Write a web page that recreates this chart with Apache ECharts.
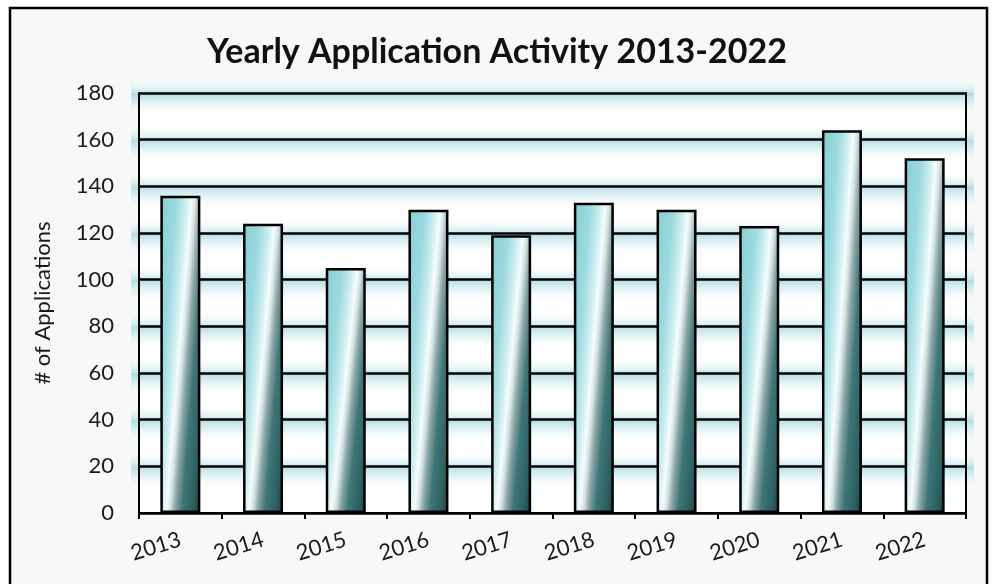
<!DOCTYPE html>
<html>
<head>
<meta charset="utf-8">
<script src="https://cdn.jsdelivr.net/npm/echarts@6/dist/echarts.min.js"></script>
<style>
html,body{margin:0;padding:0;background:#ffffff;}
#c{width:994px;height:584px;}
</style>
</head>
<body>
<div id="c"></div>
<script>
const titleText = 'Yearly Application Activity 2013-2022';
const yAxisName = '# of Applications';
const years = ['2013','2014','2015','2016','2017','2018','2019','2020','2021','2022'];
const applications = [136,124,105,130,119,133,130,123,164,152];
const yMin = 0, yMax = 180, yStep = 20;

const FONT = 'Lato, "Open Sans", sans-serif';
const BAR_W = 40;
const stops = [
  {offset:0, color:'#84ced4'},
  {offset:0.25, color:'#9cdadf'},
  {offset:0.40, color:'#cdeef0'},
  {offset:0.48, color:'#f6fcfc'},
  {offset:0.54, color:'#d3e2e2'},
  {offset:0.61, color:'#8ea7a8'},
  {offset:0.72, color:'#3f7678'},
  {offset:0.88, color:'#2b6163'},
  {offset:1, color:'#173f41'}
];
function makeGrad(w, h){
  const den = h*h + 0.4225*w*w;
  const x2 = 1.65*h*h/den;
  const y2 = 1.0725*w*w/den;
  return new echarts.graphic.LinearGradient(0,0,x2,y2,stops);
}

// glow bands around each gridline
const glowBelow = new echarts.graphic.LinearGradient(0,0,0,1,[
  {offset:0, color:'rgba(135,203,211,0.65)'},
  {offset:0.45, color:'rgba(160,215,222,0.35)'},
  {offset:1, color:'rgba(200,235,238,0)'}]);
const glowAbove = new echarts.graphic.LinearGradient(0,0,0,1,[
  {offset:0, color:'rgba(200,235,238,0)'},
  {offset:1, color:'rgba(140,205,213,0.45)'}]);
const glowAreas = [];
for (let v = yMin + yStep; v <= yMax; v += yStep) {
  glowAreas.push([{yAxis: v, itemStyle:{color: glowBelow}}, {yAxis: v - 8.5}]);
  glowAreas.push([{yAxis: v + 5.5, itemStyle:{color: glowAbove}}, {yAxis: v}]);
}

const chart = echarts.init(document.getElementById('c'), null, {renderer:'canvas'});
const option = {
  backgroundColor: '#ffffff',
  animation: false,
  graphic: [{
    type:'rect', z:-10, silent:true,
    shape:{x:10, y:8, width:977, height:600},
    style:{fill:'#f7f9f9', stroke:'#000', lineWidth:2.5}
  }],
  title: {
    text: titleText, left:'center', top: 30,
    textStyle:{fontFamily:FONT, fontWeight:'bold', fontSize:34, color:'#111'}
  },
  grid: [
    {left:139, top:93, right:28, bottom:71, show:true, backgroundColor:'#ffffff', borderWidth:0},
    {left:131, top:79, right:20, bottom:71, show:false}
  ],
  xAxis: [{
    type:'category', data: years, gridIndex:0, z:3,
    axisLine:{show:true, lineStyle:{color:'#000', width:2}},
    axisTick:{show:true, length:6, lineStyle:{color:'#000', width:2}},
    axisLabel:{rotate:17, margin:26, fontFamily:FONT, fontSize:22, color:'#1a1a1a'}
  }, {
    type:'value', gridIndex:1, min:0, max:1, show:false
  }],
  yAxis: [{
    type:'value', gridIndex:0, min:yMin, max:yMax, interval:yStep, z:3,
    name: yAxisName, nameLocation:'middle', nameGap:85,
    nameTextStyle:{fontFamily:FONT, fontSize:22, color:'#1a1a1a'},
    axisLine:{show:true, lineStyle:{color:'#000', width:2}},
    axisTick:{show:false},
    axisLabel:{margin:25, fontFamily:FONT, fontSize:22, color:'#1a1a1a'},
    splitLine:{show:true, lineStyle:{color:'#000', width:2.5}}
  }, {
    type:'value', gridIndex:0, position:'right', min:yMin, max:yMax, interval:yStep, z:3,
    axisLine:{show:true, lineStyle:{color:'#000', width:2}},
    axisTick:{show:false}, axisLabel:{show:false}, splitLine:{show:false}
  }, {
    type:'value', gridIndex:1, min:yMin, max:yMax * (434/420), show:false, splitLine:{show:false}
  }],
  series: [{
    type:'bar', data: applications, barWidth:BAR_W, z:4,
    itemStyle:{color:'#5aa', borderColor:'#000', borderWidth:2.5}
  }, {
    type:'line', data: [], xAxisIndex:1, yAxisIndex:2, z:1, silent:true,
    markArea:{silent:true, data: glowAreas}
  }]
};
chart.setOption(option);
const zeroY = chart.convertToPixel({yAxisIndex:0}, yMin);
const items = applications.map(v => {
  const h = Math.max(1, zeroY - chart.convertToPixel({yAxisIndex:0}, v));
  return {value:v, itemStyle:{color: makeGrad(BAR_W, h)}};
});
chart.setOption({series:[{data: items}]});
</script>
</body>
</html>
